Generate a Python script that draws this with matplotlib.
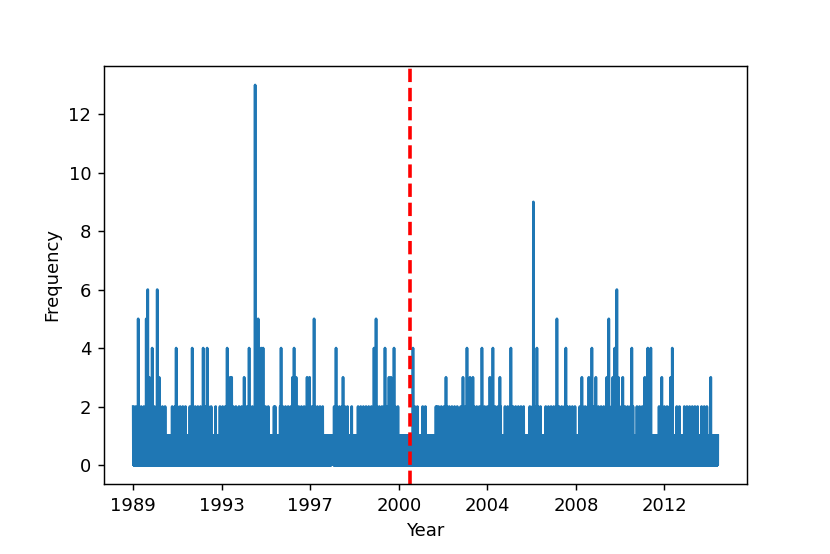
import numpy as np
import matplotlib
matplotlib.use("Agg")
import matplotlib.pyplot as plt

# one row per record, 1989 .. mid 2014
n_rows = 6604
year_ticks = [0, 1000, 2000, 3000, 4000, 5000, 6000]
year_labels = ['1989', '1993', '1997', '2000', '2004', '2008', '2012']
split_index = 3126  # red dashed marker

# stretches where the count keeps reaching 2
two_runs = [(0, 370), (440, 620), (640, 900), (980, 1185), (1195, 1530),
            (1660, 2160), (2270, 2440), (2540, 3020),
            (3180, 3240), (3270, 3310), (3420, 3670), (3700, 4160),
            (4200, 4430), (4480, 4630), (4660, 5010),
            (5045, 5650), (5690, 5870), (5940, 6095), (6140, 6200),
            (6225, 6380), (6420, 6490)]
# stretch sitting at 1 (thin white gap around 1998)
one_runs = [(2240, 2262)]

# single larger counts (index, value)
spikes = [(56, 5), (147, 5), (164, 6), (181, 3), (214, 4), (271, 6), (293, 3),
          (485, 4), (666, 4), (790, 4), (835, 4), (931, 2), (1061, 4), (1095, 3),
          (1112, 3), (1253, 3), (1309, 4), (1377, 13), (1411, 5), (1445, 4),
          (1467, 4), (1591, 2), (1603, 2),
          (1670, 4), (1800, 3), (1817, 4), (1840, 3), (1964, 3), (1992, 3),
          (2043, 5), (2291, 4), (2370, 3), (2468, 2), (2720, 4), (2743, 5),
          (2844, 4), (2889, 3), (2912, 3), (2946, 4),
          (3160, 4), (3431, 2), (3533, 3), (3725, 3), (3770, 4), (3804, 3),
          (3837, 3), (3939, 4), (4029, 3), (4063, 4), (4142, 3), (4266, 4),
          (4520, 9), (4560, 4), (4786, 5), (4887, 4),
          (5068, 3), (5147, 3), (5181, 4), (5226, 3), (5350, 3), (5372, 5),
          (5418, 3), (5440, 4), (5463, 6), (5480, 3), (5530, 3), (5632, 4),
          (5779, 3), (5813, 4), (5847, 4), (5971, 3), (6072, 3), (6089, 4),
          (6524, 3)]

# day to day the count flips between 0 and 1
counts = np.tile([0, 1], n_rows // 2)
for s, e in two_runs:
    counts[s:e:30] = 2
for s, e in one_runs:
    counts[s:e] = 1
for i, v in spikes:
    counts[i] = v

fig = plt.figure(figsize=(830 / 130, 554 / 130), dpi=130)
ax = fig.add_subplot(111)
fig.subplots_adjust(left=0.1253, right=0.9, top=0.8809, bottom=0.1264)

ax.plot(np.arange(n_rows), counts)
ax.axvline(split_index, color='red', linestyle='--', linewidth=2)

ax.set_xticks(year_ticks)
ax.set_xticklabels(year_labels)
ax.set_xlabel('Year')
ax.set_ylabel('Frequency')

fig.savefig('out.png', dpi=130)
